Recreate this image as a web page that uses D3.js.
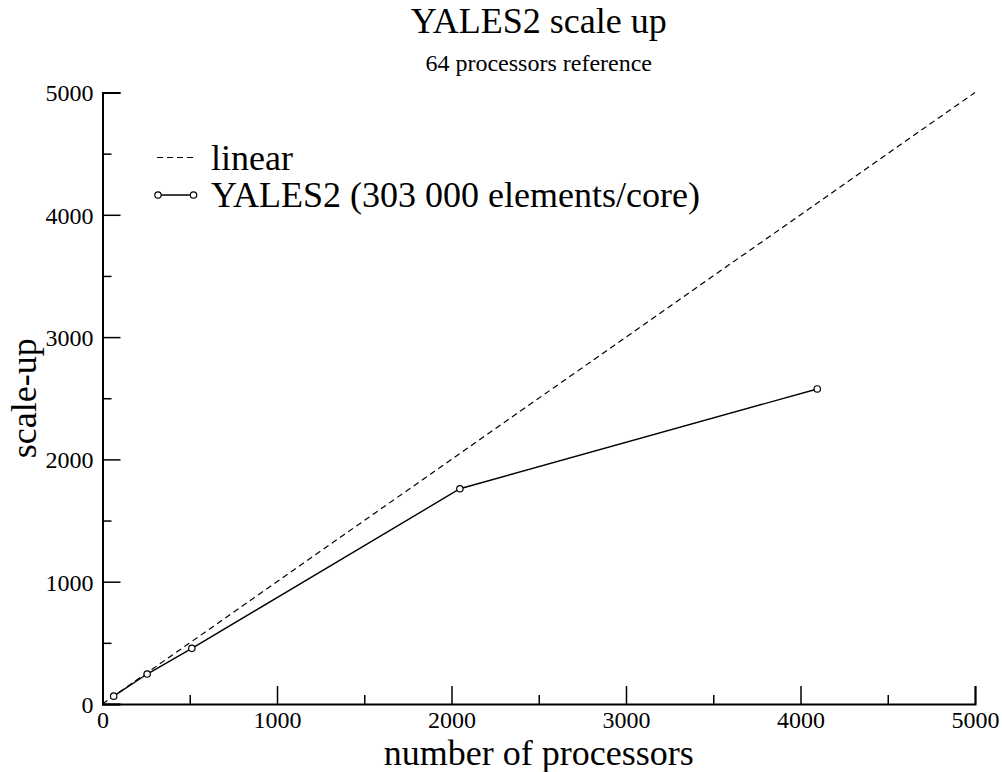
<!DOCTYPE html>
<html>
<head>
<meta charset="utf-8">
<script src="https://cdn.jsdelivr.net/npm/d3@7"></script>
<style>
  body { margin: 0; background: #fff; }
  text { font-family: "Liberation Serif", "Times New Roman", serif; fill: #000; }
</style>
</head>
<body>
<div class="chart"></div>
<script>
// data
var processors = [64, 256, 512, 2048, 4096];
var scaleUp = [64, 245, 455, 1760, 2576];
var linearX = [0, 5000];
var xTicks = [0, 1000, 2000, 3000, 4000, 5000];
var yTicks = [0, 1000, 2000, 3000, 4000, 5000];
var legendLabels = ['linear', 'YALES2 (303 000 elements/core)'];

var width = 1002, height = 772;
var margin = {left: 102.5, right: 27, top: 92.5, bottom: 68};

var svg = d3.select('.chart').append('svg')
    .attr('width', width)
    .attr('height', height);

var x = d3.scaleLinear().domain([0, 5000]).range([margin.left, width - margin.right]);
var y = d3.scaleLinear().domain([0, 5000]).range([height - margin.bottom, margin.top]);

// minor ticks every 500
var minor = d3.range(500, 5000, 1000);

var xAxis = svg.append('g')
    .attr('transform', 'translate(0,' + y(0) + ')')
    .call(d3.axisBottom(x).tickValues(xTicks).tickSize(-18).tickFormat(d3.format('d')));
xAxis.selectAll('.tick text').attr('dy', 0).attr('y', 23.5);

svg.append('g')
    .attr('transform', 'translate(0,' + y(0) + ')')
    .call(d3.axisBottom(x).tickValues(minor).tickSize(-9).tickFormat(''))
    .select('.domain').remove();

var yAxis = svg.append('g')
    .attr('transform', 'translate(' + x(0) + ',0)')
    .call(d3.axisLeft(y).tickValues(yTicks).tickSize(-18).tickFormat(d3.format('d')));
yAxis.selectAll('.tick text').attr('x', -9).attr('dy', '0.35em');

svg.append('g')
    .attr('transform', 'translate(' + x(0) + ',0)')
    .call(d3.axisLeft(y).tickValues(minor).tickSize(-9).tickFormat(''))
    .select('.domain').remove();

svg.selectAll('.domain').attr('stroke', '#000').attr('stroke-width', 2);
svg.selectAll('.tick line').attr('stroke', '#000').attr('stroke-width', 1.5);
svg.selectAll('.tick text')
    .style('font-family', '"Liberation Serif", serif')
    .style('font-size', '24px')
    .attr('fill', '#000');

// linear reference line
var line = d3.line()
    .x(function (d) { return x(d[0]); })
    .y(function (d) { return y(d[1]); });

svg.append('path')
    .datum(linearX.map(function (v) { return [v, v]; }))
    .attr('d', line)
    .attr('fill', 'none')
    .attr('stroke', '#000')
    .attr('stroke-width', 1.2)
    .attr('stroke-dasharray', '6,4');

var yalesData = processors.map(function (p, i) { return [p, scaleUp[i]]; });

svg.append('path')
    .datum(yalesData)
    .attr('d', line)
    .attr('fill', 'none')
    .attr('stroke', '#000')
    .attr('stroke-width', 1.4);

svg.selectAll('.pt')
    .data(yalesData)
    .enter()
    .append('circle')
    .attr('class', 'pt')
    .attr('cx', function (d) { return x(d[0]); })
    .attr('cy', function (d) { return y(d[1]); })
    .attr('r', 3.2)
    .attr('fill', '#fff')
    .attr('stroke', '#000')
    .attr('stroke-width', 1.2);

// titles
var cx = (x(0) + x(5000)) / 2;
svg.append('text')
    .attr('x', cx).attr('y', 33)
    .attr('text-anchor', 'middle')
    .style('font-size', '36px')
    .text('YALES2 scale up');

svg.append('text')
    .attr('x', cx).attr('y', 71)
    .attr('text-anchor', 'middle')
    .style('font-size', '24px')
    .text('64 processors reference');

svg.append('text')
    .attr('x', cx).attr('y', 765)
    .attr('text-anchor', 'middle')
    .style('font-size', '36px')
    .text('number of processors');

svg.append('text')
    .attr('transform', 'translate(36,' + ((y(0) + y(5000)) / 2) + ') rotate(-90)')
    .attr('text-anchor', 'middle')
    .style('font-size', '36px')
    .text('scale-up');

// legend
var legend = svg.append('g');

legend.append('line')
    .attr('x1', 157).attr('x2', 194)
    .attr('y1', 157.5).attr('y2', 157.5)
    .attr('stroke', '#000')
    .attr('stroke-width', 1.2)
    .attr('stroke-dasharray', '6,4');

legend.append('line')
    .attr('x1', 158).attr('x2', 193.5)
    .attr('y1', 195).attr('y2', 195)
    .attr('stroke', '#000')
    .attr('stroke-width', 1.4);

legend.selectAll('.lg-pt')
    .data([158, 193.5])
    .enter()
    .append('circle')
    .attr('class', 'lg-pt')
    .attr('cx', function (d) { return d; })
    .attr('cy', 195)
    .attr('r', 3.2)
    .attr('fill', '#fff')
    .attr('stroke', '#000')
    .attr('stroke-width', 1.2);

legend.selectAll('.lg-text')
    .data(legendLabels)
    .enter()
    .append('text')
    .attr('class', 'lg-text')
    .attr('x', 211)
    .attr('y', function (d, i) { return 170 + i * 37; })
    .style('font-size', '36px')
    .text(function (d) { return d; });
</script>
</body>
</html>
